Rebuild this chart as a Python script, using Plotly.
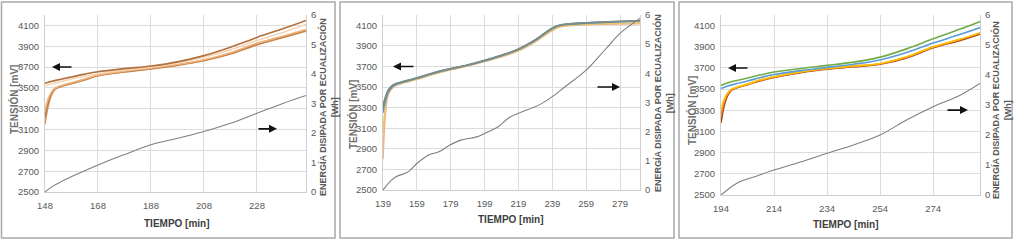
import plotly.graph_objects as go

# ---------------- Panel 1 data ----------------
p1_t = [148, 149, 150, 151, 152, 154, 158, 163, 168, 178, 188, 198, 208, 218, 228, 238, 246.5]
p1_cell_a = [3545, 3552, 3560, 3566, 3572, 3583, 3605, 3632, 3655, 3685, 3710, 3750, 3810, 3890, 3985, 4070, 4148]
p1_cell_b = [3520, 3528, 3535, 3542, 3548, 3560, 3585, 3612, 3635, 3672, 3700, 3740, 3795, 3865, 3955, 4035, 4112]
p1_cell_c = [3280, 3380, 3440, 3480, 3500, 3520, 3550, 3585, 3623, 3660, 3690, 3725, 3770, 3838, 3928, 3998, 4060]
p1_cell_d = [3220, 3340, 3420, 3470, 3495, 3515, 3545, 3580, 3620, 3655, 3685, 3720, 3765, 3830, 3920, 3990, 4052]
p1_cell_e = [3150, 3300, 3400, 3460, 3490, 3512, 3540, 3577, 3616, 3652, 3682, 3716, 3760, 3825, 3913, 3985, 4045]
p1_et = [148, 151, 154.3, 160, 167.6, 177.7, 188, 198, 208, 218, 228, 238, 246.5]
p1_energy = [0, 0.2, 0.36, 0.6, 0.9, 1.26, 1.6, 1.82, 2.05, 2.33, 2.67, 3.01, 3.27]

# ---------------- Panel 2 data ----------------
p2_t = [139, 140, 141, 142, 144, 146, 150, 159, 169, 179, 189, 199, 209, 219, 229, 239, 244, 249, 259, 269, 279, 291]
p2_cell_a = [3320, 3380, 3430, 3470, 3510, 3530, 3550, 3590, 3640, 3680, 3715, 3760, 3810, 3870, 3960, 4075, 4105, 4115, 4125, 4132, 4138, 4143]
p2_cell_b = [3300, 3370, 3420, 3460, 3505, 3527, 3548, 3588, 3638, 3678, 3714, 3758, 3808, 3868, 3958, 4072, 4103, 4113, 4123, 4131, 4137, 4145]
p2_cell_c = [3250, 3340, 3400, 3450, 3495, 3520, 3545, 3585, 3635, 3676, 3712, 3756, 3805, 3865, 3955, 4068, 4100, 4110, 4120, 4128, 4134, 4140]
p2_cell_d = [3050, 3250, 3370, 3440, 3490, 3515, 3540, 3578, 3628, 3670, 3708, 3750, 3798, 3856, 3945, 4056, 4090, 4100, 4110, 4116, 4120, 4123]
p2_cell_e = [2800, 3150, 3330, 3420, 3480, 3510, 3535, 3575, 3625, 3668, 3705, 3748, 3795, 3852, 3940, 4050, 4085, 4095, 4105, 4110, 4113, 4115]
p2_et = [139, 144, 147, 154, 159, 166, 172, 178.5, 185, 195, 199, 207, 213, 219, 231, 239, 246.5, 259, 270, 279, 291]
p2_energy = [0, 0.34, 0.46, 0.63, 0.91, 1.2, 1.31, 1.54, 1.71, 1.83, 1.94, 2.17, 2.46, 2.63, 2.91, 3.2, 3.54, 4.11, 4.8, 5.37, 5.89]

# ---------------- Panel 3 data ----------------
p3_t = [194, 195, 196, 197, 198, 200, 204, 209, 214, 224, 234, 244, 254, 264, 274, 284, 292]
p3_cell_a = [3535, 3545, 3555, 3563, 3570, 3582, 3605, 3635, 3661, 3695, 3724, 3755, 3802, 3880, 3975, 4065, 4141]
p3_cell_b = [3505, 3515, 3525, 3533, 3540, 3553, 3577, 3610, 3638, 3675, 3705, 3735, 3775, 3845, 3935, 4015, 4084]
p3_cell_c = [3300, 3390, 3445, 3480, 3500, 3518, 3548, 3588, 3617, 3663, 3695, 3718, 3742, 3805, 3900, 3970, 4035]
p3_cell_d = [3250, 3360, 3430, 3470, 3495, 3515, 3545, 3585, 3614, 3660, 3692, 3715, 3739, 3800, 3896, 3965, 4030]
p3_cell_e = [3180, 3320, 3410, 3460, 3490, 3512, 3542, 3580, 3610, 3656, 3688, 3711, 3735, 3795, 3890, 3958, 4021]
p3_et = [194, 200.3, 207, 214, 224, 234, 244, 254, 264, 274, 284, 292]
p3_energy = [0, 0.41, 0.62, 0.83, 1.1, 1.39, 1.67, 2.0, 2.5, 2.94, 3.32, 3.74]

# ticks / labels
v_ticks = [2500, 2700, 2900, 3100, 3300, 3500, 3700, 3900, 4100]
e_ticks = [0, 1, 2, 3, 4, 5, 6]
p1_xticks = [148, 168, 188, 208, 228]
p2_xticks = [139, 159, 179, 199, 219, 239, 259, 279]
p3_xticks = [194, 214, 234, 254, 274]
y_title = "TENSIÓN [mV]"
x_title = "TIEMPO [min]"
e_title = "ENERGÍA DISIPADA POR ECUALIZACIÓN<br>[Wh]"

W, H = 1019, 243
TICKFONT = dict(family="Liberation Sans Narrow, Arial Narrow, Liberation Sans, sans-serif", size=9.5, color="#595959")
GRID = "#dcdcdc"

panels = [
    dict(t=p1_t, cells=[p1_cell_e, p1_cell_d, p1_cell_c, p1_cell_b, p1_cell_a],
         colors=["#d99a60", "#b97a48", "#eeb27a", "#f8d6b4", "#b0703f"],
         et=p1_et, e=p1_energy, xt=p1_xticks, xr=[148, 246.5],
         px=(45, 306), py=(15, 192),
         ytl=(14, 100), xtl=(177, 223), etl=(328, 107),
         la=((52, 73), 3700), ra=((257, 277), 2.14)),
    dict(t=p2_t, cells=[p2_cell_e, p2_cell_d, p2_cell_c, p2_cell_b, p2_cell_a],
         colors=["#f4b183", "#e9c46a", "#5b9bd5", "#5f8f7a", "#7f8c8d"],
         et=p2_et, e=p2_energy, xt=p2_xticks, xr=[139, 290.8],
         px=(383, 640), py=(15, 190),
         ytl=(353, 115), xtl=(511, 219), etl=(664, 103),
         la=((393, 415), 3700), ra=((620, 596), 3.53)),
    dict(t=p3_t, cells=[p3_cell_e, p3_cell_d, p3_cell_c, p3_cell_b, p3_cell_a],
         colors=["#9e480e", "#ed7d31", "#ffc000", "#5b9bd5", "#70ad47"],
         et=p3_et, e=p3_energy, xt=p3_xticks, xr=[194, 291.7],
         px=(721, 980), py=(15, 195),
         ytl=(692, 111), xtl=(846, 224), etl=(1002, 110),
         la=((728, 749), 3700), ra=((968, 946), 2.83)),
]

fig = go.Figure()
annotations = []
shapes = []
boxes = [(1.5, 335), (340, 674), (679, 1012)]

for i, p in enumerate(panels):
    xa = "x" if i == 0 else f"x{i+1}"
    ya = "y" if i == 0 else f"y{2*i+1}"
    yb = f"y{2*i+2}"
    for vals, col in zip(p["cells"], p["colors"]):
        fig.add_trace(go.Scatter(x=p["t"], y=vals, mode="lines", line=dict(color=col, width=1.6, shape="spline"),
                                 xaxis=xa, yaxis=ya, showlegend=False))
    fig.add_trace(go.Scatter(x=p["et"], y=p["e"], mode="lines", line=dict(color="#7f7f7f", width=1.1, shape="spline"),
                             xaxis=xa, yaxis=yb, showlegend=False))

    xdom = [p["px"][0] / W, p["px"][1] / W]
    ydom = [1 - p["py"][1] / H, 1 - p["py"][0] / H]
    xkey = "xaxis" if i == 0 else f"xaxis{i+1}"
    yk1 = "yaxis" if i == 0 else f"yaxis{2*i+1}"
    yk2 = f"yaxis{2*i+2}"
    fig.update_layout({
        xkey: dict(domain=xdom, range=p["xr"], anchor=ya, tickvals=p["xt"], showgrid=True, gridcolor=GRID,
                   zeroline=False, showline=True, linecolor="#cfcfcf", tickfont=TICKFONT, ticks="",
                   ticklabelstandoff=5, automargin=False),
        yk1: dict(domain=ydom, range=[2500, 4200], anchor=xa, tickvals=v_ticks, showgrid=True, gridcolor=GRID,
                  zeroline=False, showline=True, linecolor="#cfcfcf", tickfont=TICKFONT, ticks="",
                  ticklabelstandoff=3, automargin=False),
        yk2: dict(range=[0, 6], overlaying=ya, side="right", anchor=xa, tickvals=e_ticks, showgrid=False,
                  zeroline=False, showline=True, linecolor="#cfcfcf", tickfont=TICKFONT, ticks="",
                  ticklabelstandoff=2, automargin=False),
    })

    # axis titles
    annotations.append(dict(text="<b>" + y_title + "</b>", x=p["ytl"][0] / W, y=1 - p["ytl"][1] / H,
                            xref="paper", yref="paper",
                            textangle=-90, showarrow=False, xanchor="center", yanchor="middle",
                            font=dict(family="Liberation Sans, Arial, sans-serif", size=10, color="#6f6f6f")))
    annotations.append(dict(text="<b>" + x_title + "</b>", x=p["xtl"][0] / W, y=1 - p["xtl"][1] / H,
                            xref="paper", yref="paper", showarrow=False, xanchor="center", yanchor="middle",
                            font=dict(family="Liberation Sans Narrow, Arial Narrow, sans-serif", size=10, color="#404040")))
    annotations.append(dict(text="<b>" + e_title + "</b>", x=p["etl"][0] / W, y=1 - p["etl"][1] / H,
                            xref="paper", yref="paper", textangle=-90, showarrow=False, xanchor="center",
                            yanchor="middle",
                            font=dict(family="Liberation Sans, Arial, sans-serif", size=9, color="#595959")))

    # arrows
    x0p, x1p = p["px"]
    xr0, xr1 = p["xr"]
    def px2x(v):
        return xr0 + (v - x0p) / (x1p - x0p) * (xr1 - xr0)
    (lh, lt), lv = p["la"]
    annotations.append(dict(x=px2x(lh), y=lv, ax=px2x(lt), ay=lv, xref=xa, yref=ya, axref=xa, ayref=ya,
                            showarrow=True, arrowhead=2, arrowsize=1, arrowwidth=1.6, arrowcolor="#111111", text=""))
    (rh, rt), rv = p["ra"]
    if rh < rt:
        rh, rt = rt, rh
    annotations.append(dict(x=px2x(rh), y=rv, ax=px2x(rt), ay=rv, xref=xa, yref=yb, axref=xa, ayref=yb,
                            showarrow=True, arrowhead=2, arrowsize=1, arrowwidth=1.6, arrowcolor="#111111", text=""))

    bx0, bx1 = boxes[i]
    shapes.append(dict(type="rect", xref="paper", yref="paper", x0=bx0 / W, x1=bx1 / W, y0=1 - 238 / H, y1=1 - 2 / H,
                       line=dict(color="#a9a9a9", width=1.5), fillcolor="rgba(0,0,0,0)", layer="below"))

fig.update_layout(width=W, height=H, margin=dict(l=0, r=0, t=0, b=0, pad=0), autosize=False,
                  paper_bgcolor="white", plot_bgcolor="white", annotations=annotations, shapes=shapes,
                  showlegend=False)

fig.write_html("out.html", config={"displayModeBar": False},
               post_script="document.body.style.margin='0';document.body.style.overflow='hidden';")
